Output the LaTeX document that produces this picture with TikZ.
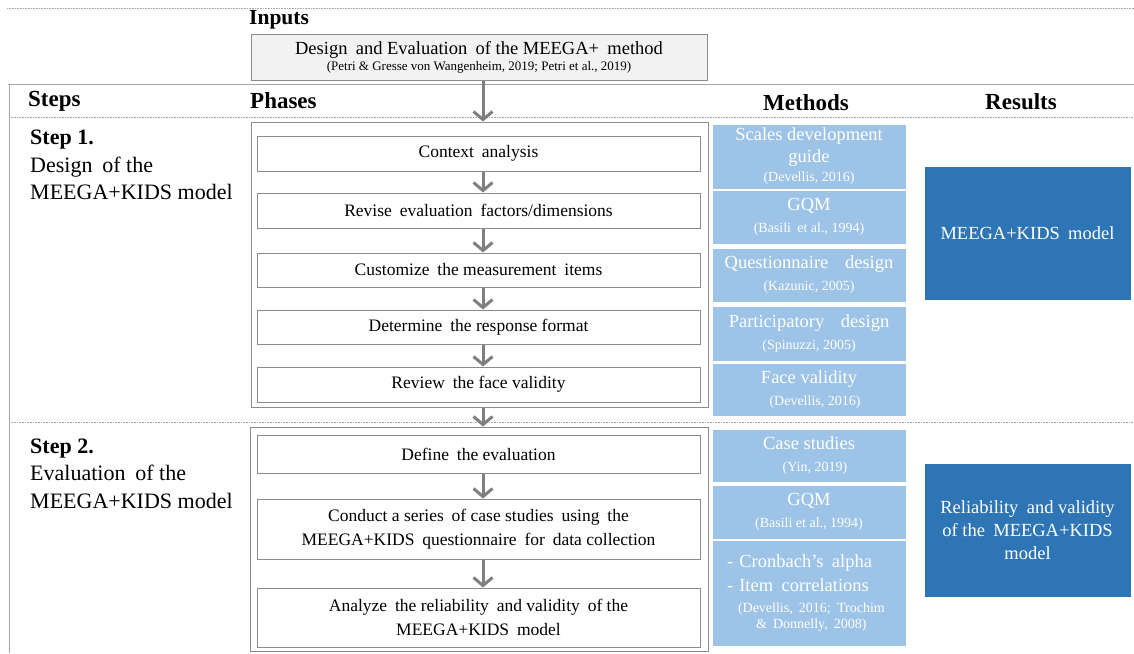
\documentclass[tikz,border=0pt]{standalone}
\usepackage{fontspec}
\setmainfont{Liberation Serif}
\usetikzlibrary{arrows.meta}
\definecolor{lblue}{HTML}{9DC3E6}
\definecolor{dblue}{HTML}{2E75B6}
\definecolor{lgray}{HTML}{A6A6A6}
\definecolor{agray}{HTML}{7F7F7F}
\definecolor{bgray}{HTML}{8C8C8C}
\definecolor{infill}{HTML}{F2F2F2}
\newcommand{\fs}[2]{\fontsize{#1}{#2}\selectfont}
\newcommand{\ct}{\fontsize{14}{17}\selectfont}
\newcommand{\wsp}{\hspace{0.45em}}
\tikzset{
  x=1pt, y=-1pt,
  sep/.style={draw=lgray, line width=0.8pt, dash pattern=on 1pt off 0.6pt},
  rule/.style={draw=lgray, line width=1pt},
  hdr/.style={font=\fs{23}{27}\bfseries, inner sep=0pt},
  frame/.style={draw=bgray, line width=1pt, inner sep=0pt},
  phase/.style={draw=bgray, line width=1pt, inner sep=0pt, align=center, font=\fs{17.5}{24}},
  meth/.style={fill=lblue, draw=white, line width=0.8pt, inner sep=0pt, align=center, text=white, font=\fs{18.5}{22}},
  res/.style={fill=dblue, draw=white, line width=0.8pt, inner sep=0pt, align=center, text=white, font=\fs{18.5}{23}},
  flow/.style={draw=agray, line width=3pt, -{Straight Barb[length=8pt,width=19pt,line width=3pt]}},
  steptxt/.style={anchor=north west, inner sep=0pt, align=left, font=\fs{22}{27.5}}
}
\begin{document}
\begin{tikzpicture}
\useasboundingbox (0,0) rectangle (1134,653);
% rules
\draw[sep] (7,8) -- (1134,8);
\draw[rule] (8,84) -- (1134,84);
\draw[rule] (9,84) -- (9,653);
\draw[sep] (9,117) -- (1134,117);
\draw[sep] (9,422) -- (1134,422);
% headers
\node[hdr, anchor=west, font=\fs{21.5}{25}\bfseries] (hin) at (249,20) {Inputs};
\node[hdr, anchor=west] (hst) at (28,101) {Steps};
\node[hdr, anchor=west] (hph) at (250,101) {Phases};
\node[hdr] (hme) at (806,103) {Methods};
\node[hdr] (hre) at (1021,102) {Results};
% input
\node[draw=bgray, fill=infill, line width=1pt, minimum width=456pt, minimum height=46pt, inner sep=0pt, align=center] (in) at (479,57)
  {{\fs{18.5}{20}Design\wsp and Evaluation\wsp of the MEEGA+\wsp method}\\[2pt]{\fs{13}{14}(Petri \& Gresse von Wangenheim, 2019; Petri et al., 2019)}};
% steps
\node[steptxt] (s1) at (30,130) {\textbf{Step 1.}\\Design\wsp of the\\MEEGA+KIDS model};
\node[steptxt] (s2) at (30,438.5) {\textbf{Step 2.}\\Evaluation\wsp of the\\MEEGA+KIDS model};
% frames
\node[frame, minimum width=457pt, minimum height=285pt] (f1) at (479.5,264.5) {};
\node[frame, minimum width=458pt, minimum height=224pt] (f2) at (479,539) {};
% phases step 1
\node[phase, minimum width=443pt, minimum height=35pt] (p1) at (478.5,153.5) {Context\wsp analysis};
\node[phase, minimum width=443pt, minimum height=35pt] (p2) at (478.5,210.5) {Revise\wsp evaluation\wsp factors/dimensions};
\node[phase, minimum width=443pt, minimum height=34pt] (p3) at (478.5,270) {Customize\wsp the measurement\wsp items};
\node[phase, minimum width=443pt, minimum height=34pt] (p4) at (478.5,327) {Determine\wsp the response format};
\node[phase, minimum width=443pt, minimum height=35pt] (p5) at (478.5,384.5) {Review\wsp the face validity};
% phases step 2
\node[phase, minimum width=443pt, minimum height=38pt] (q1) at (478.5,454) {Define\wsp the evaluation};
\node[phase, minimum width=443pt, minimum height=60pt] (q2) at (478.5,529) {Conduct a series\wsp of case studies\wsp using\wsp the\\MEEGA+KIDS\wsp questionnaire\wsp for\wsp data collection};
\node[phase, minimum width=443pt, minimum height=59pt] (q3) at (478.5,617.5) {Analyze\wsp the reliability\wsp and validity\wsp of the\\MEEGA+KIDS\wsp model};
% arrows
\draw[flow] ([xshift=4pt]in.south) -- ([xshift=3.5pt]f1.north);
\draw[flow] ([xshift=4.5pt]p1.south) -- ([xshift=4.5pt]p2.north);
\draw[flow] ([xshift=4.5pt]p2.south) -- ([xshift=4.5pt]p3.north);
\draw[flow] ([xshift=4.5pt]p3.south) -- ([xshift=4.5pt]p4.north);
\draw[flow] ([xshift=4.5pt]p4.south) -- ([xshift=4.5pt]p5.north);
\draw[flow] ([xshift=3.5pt]f1.south) -- ([xshift=4pt]f2.north);
\draw[flow] ([xshift=4.5pt]q1.south) -- ([xshift=4.5pt]q2.north);
\draw[flow] ([xshift=4.5pt]q2.south) -- ([xshift=4.5pt]q3.north);
% methods
\node[meth, minimum width=194pt, minimum height=65pt] (m1) at (809,156.5) {Scales development\\guide\\[-3pt]{\ct(Devellis, 2016)}};
\node[meth, minimum width=194pt, minimum height=54pt] (m2) at (809,217) {GQM\\{\ct(Basili\wsp et al., 1994)}};
\node[meth, minimum width=194pt, minimum height=54pt] (m3) at (809,275) {Questionnaire\wsp\wsp design\\{\ct(Kazunic, 2005)}};
\node[meth, minimum width=194pt, minimum height=55pt] (m4) at (809,333.5) {Participatory\wsp\wsp design\\{\ct(Spinuzzi, 2005)}};
\node[meth, minimum width=194pt, minimum height=53pt] (m5) at (809,389.5) {Face validity\\[0pt]{\ct\hspace*{12pt}(Devellis, 2016)}};
\node[meth, minimum width=194pt, minimum height=53pt] (m6) at (809,455.5) {Case studies\\{\ct\hspace*{12pt}(Yin, 2019)}};
\node[meth, minimum width=194pt, minimum height=54pt] (m7) at (809,512) {GQM\\{\ct(Basili et al., 1994)}};
\node[meth, minimum width=194pt, minimum height=106pt, align=left, text width=170pt] (m8) at (809,593) {\hspace*{3pt}- Cronbach’s\wsp alpha\\[2pt]\hspace*{3pt}- Item\wsp correlations\\[-1pt]{\ct\hspace*{14pt}(Devellis, 2016; Trochim}\\[-6pt]{\ct\hspace*{32pt}\& Donnelly, 2008)}};
% results
\node[res, minimum width=207pt, minimum height=134pt] (r1) at (1027.5,233) {MEEGA+KIDS\wsp model};
\node[res, minimum width=207pt, minimum height=134pt] (r2) at (1027.5,530) {Reliability\wsp and validity\\of the\wsp MEEGA+KIDS\\model};
\end{tikzpicture}
\end{document}
